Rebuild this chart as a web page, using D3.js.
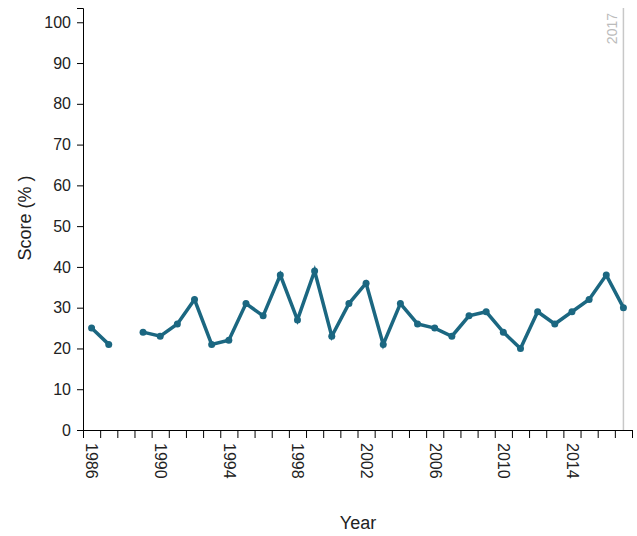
<!DOCTYPE html>
<html>
<head>
<meta charset="utf-8">
<script src="https://cdn.jsdelivr.net/npm/d3@7"></script>
<style>
  body { margin: 0; background: #fff; }
  svg { font-family: Arial, "Liberation Sans", sans-serif; }
</style>
</head>
<body>
<svg id="chart" width="637" height="536"></svg>
<script>
// ── Data ──────────────────────────────────────────────
const years = d3.range(1986, 2018);
const scores = [25, 21, null, 24, 23, 26, 32, 21, 22, 31, 28, 38, 27, 39, 23, 31,
                36, 21, 31, 26, 25, 23, 28, 29, 24, 20, 29, 26, 29, 32, 38, 30];
const yTicks = [0, 10, 20, 30, 40, 50, 60, 70, 80, 90, 100];
const xLabels = [1986, 1990, 1994, 1998, 2002, 2006, 2010, 2014];
const markerYear = 2017;

const LINE_COLOR = '#1b6781';

const svg = d3.select('#chart');

const x = d3.scaleLinear().domain([1985.5, 2017.5]).range([83, 632]);
const y = d3.scaleLinear().domain([0, 103.5]).range([430, 8]);

const points = years.map((yr, i) => ({ year: yr, value: scores[i] }));

// ── Axes ──────────────────────────────────────────────
const yAxis = svg.append('g')
    .attr('transform', `translate(${x.range()[0]},0)`)
    .call(d3.axisLeft(y).tickValues(yTicks).tickSize(6).tickPadding(6));

yAxis.selectAll('text').attr('font-size', '16px').attr('fill', '#222');
yAxis.selectAll('line, path').attr('stroke', '#000');

// year boundaries as ticks
const xTickAxis = svg.append('g')
    .attr('transform', `translate(0,${y(0)})`)
    .call(d3.axisBottom(x)
        .tickValues(d3.range(1985.5, 2018, 1))
        .tickSize(8)
        .tickSizeOuter(8)
        .tickFormat(''));
xTickAxis.selectAll('line, path').attr('stroke', '#000');

// labels centred on the year
const xLabelAxis = svg.append('g')
    .attr('transform', `translate(0,${y(0)})`)
    .call(d3.axisBottom(x).tickValues(xLabels).tickSize(0).tickFormat(d3.format('d')));
xLabelAxis.select('.domain').remove();
xLabelAxis.selectAll('text')
    .attr('font-size', '16px')
    .attr('fill', '#222')
    .attr('y', 0)
    .attr('x', 13)
    .attr('dy', '0.35em')
    .attr('transform', 'rotate(90)')
    .style('text-anchor', 'start');

// ── 2017 marker ───────────────────────────────────────
const marker = svg.append('g')
    .attr('transform', `translate(${x(markerYear)},0)`);
marker.append('line')
    .attr('y1', y.range()[1])
    .attr('y2', y(0))
    .attr('stroke', '#c8c8c8')
    .attr('stroke-width', 1.5);
marker.append('text')
    .attr('transform', 'rotate(-90)')
    .attr('x', -13)
    .attr('y', -6)
    .attr('text-anchor', 'end')
    .attr('font-size', '14px')
    .attr('fill', '#bbb')
    .text(markerYear);

// ── Line + points ─────────────────────────────────────
const line = d3.line()
    .defined(d => d.value !== null)
    .x(d => x(d.year))
    .y(d => y(d.value));

svg.append('path')
    .datum(points)
    .attr('fill', 'none')
    .attr('stroke', LINE_COLOR)
    .attr('stroke-width', 3.5)
    .attr('stroke-linejoin', 'miter')
    .attr('d', line);

svg.selectAll('.dot')
    .data(points.filter(d => d.value !== null))
    .join('circle')
    .attr('class', 'dot')
    .attr('cx', d => x(d.year))
    .attr('cy', d => y(d.value))
    .attr('r', 3.5)
    .attr('fill', LINE_COLOR);

// ── Titles ────────────────────────────────────────────
svg.append('text')
    .attr('transform', 'translate(31,218) rotate(-90)')
    .attr('text-anchor', 'middle')
    .attr('font-size', '18px')
    .attr('fill', '#222')
    .text('Score (% )');

svg.append('text')
    .attr('x', 358)
    .attr('y', 529)
    .attr('text-anchor', 'middle')
    .attr('font-size', '18px')
    .attr('fill', '#222')
    .text('Year');
</script>
</body>
</html>
